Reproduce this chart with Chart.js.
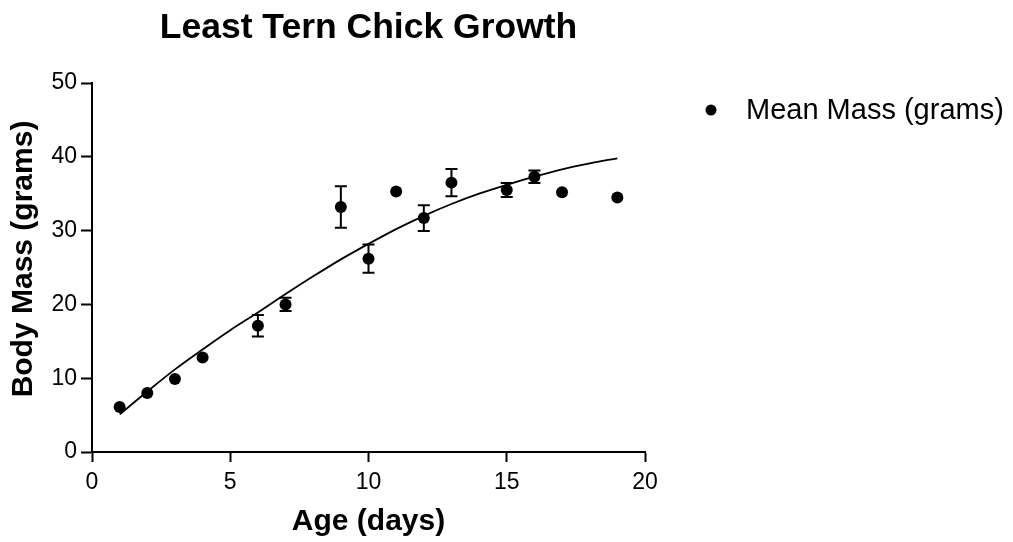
<!DOCTYPE html>
<html>
<head>
<meta charset="utf-8">
<title>Least Tern Chick Growth</title>
<script src="https://cdn.jsdelivr.net/npm/chart.js@4/dist/chart.umd.min.js"></script>
<style>
  html, body { margin: 0; padding: 0; background: #fff; }
  #growthChart { display: block; }
</style>
</head>
<body>
<canvas id="growthChart" width="1013" height="542"></canvas>
<script>
// Observed chick masses (mean +/- SEM) by age
const ages = [1, 2, 3, 4, 6, 7, 9, 10, 11, 12, 13, 15, 16, 17, 19];
const meanMass = [6.1, 8.0, 9.9, 12.8, 17.1, 20.0, 33.2, 26.2, 35.3, 31.7, 36.5, 35.5, 37.3, 35.2, 34.5];
const semMass = [0, 0, 0, 0, 1.45, 0.9, 2.8, 1.9, 0, 1.75, 1.85, 0.95, 0.85, 0, 0];

// Fitted growth curve
const fitAges = [1, 2, 3, 4, 5, 6, 7, 8, 9, 10, 11, 12, 13, 14, 15, 16, 17, 18, 19];
const fitMass = [5.1, 8.2, 11.2, 13.9, 16.5, 18.9, 21.4, 23.8, 26.1, 28.2, 30.2, 32.0, 33.6, 35.0, 36.2, 37.3, 38.3, 39.1, 39.8];

const xTicks = [0, 5, 10, 15, 20];
const yTicks = [0, 10, 20, 30, 40, 50];

const FONT = "'Liberation Sans', Arial, Helvetica, sans-serif";

// Vertical error bars with caps, drawn through the chart scales
const errorBars = {
  id: 'errorBars',
  afterDatasetsDraw(chart) {
    const { ctx, scales: { x, y } } = chart;
    ctx.save();
    ctx.strokeStyle = '#000';
    ctx.lineWidth = 2;
    ages.forEach((age, i) => {
      const err = semMass[i];
      if (!err) return;
      const px = x.getPixelForValue(age);
      const top = y.getPixelForValue(meanMass[i] + err);
      const bottom = y.getPixelForValue(meanMass[i] - err);
      ctx.beginPath();
      ctx.moveTo(px, top);
      ctx.lineTo(px, bottom);
      ctx.moveTo(px - 6, top);
      ctx.lineTo(px + 6, top);
      ctx.moveTo(px - 6, bottom);
      ctx.lineTo(px + 6, bottom);
      ctx.stroke();
    });
    ctx.restore();
  }
};

// Y axis title (sits a little above the plot's middle) and the side legend
const sideText = {
  id: 'sideText',
  afterDraw(chart) {
    const { ctx } = chart;
    ctx.save();
    ctx.fillStyle = '#000';

    ctx.save();
    ctx.translate(24, 259);
    ctx.rotate(-Math.PI / 2);
    ctx.font = 'bold 30px ' + FONT;
    ctx.textAlign = 'center';
    ctx.textBaseline = 'middle';
    ctx.fillText('Body Mass (grams)', 0, 0);
    ctx.restore();

    ctx.beginPath();
    ctx.arc(711, 110, 5.5, 0, Math.PI * 2);
    ctx.fill();
    ctx.font = '29px ' + FONT;
    ctx.textBaseline = 'middle';
    ctx.textAlign = 'left';
    ctx.fillText('Mean Mass (grams)', 746, 111);
    ctx.restore();
  }
};

const ctx = document.getElementById('growthChart').getContext('2d');
new Chart(ctx, {
  type: 'scatter',
  data: {
    datasets: [
      {
        label: 'Fit',
        data: fitAges.map((a, i) => ({ x: a, y: fitMass[i] })),
        showLine: true,
        borderColor: '#000',
        borderWidth: 1.8,
        pointRadius: 0,
        cubicInterpolationMode: 'monotone',
        fill: false
      },
      {
        label: 'Mean Mass (grams)',
        data: ages.map((a, i) => ({ x: a, y: meanMass[i] })),
        backgroundColor: '#000',
        borderWidth: 0,
        pointRadius: 6,
        pointHoverRadius: 6
      }
    ]
  },
  options: {
    responsive: false,
    animation: false,
    layout: { padding: { left: 0, right: 368, top: 0, bottom: 0 } },
    plugins: {
      legend: { display: false },
      tooltip: { enabled: false },
      title: {
        display: true,
        fullSize: false,
        text: 'Least Tern Chick Growth',
        color: '#000',
        font: { family: FONT, size: 35.5, weight: 'bold', lineHeight: 1.2 },
        padding: { top: 7, bottom: 33.4 }
      }
    },
    scales: {
      x: {
        type: 'linear',
        min: 0,
        max: 20,
        afterFit(scale) { scale.height = 90; },
        afterBuildTicks(scale) { scale.ticks = xTicks.map(v => ({ value: v })); },
        grid: { drawOnChartArea: false, drawTicks: true, tickLength: 10, tickColor: '#000', tickWidth: 2 },
        border: { display: true, color: '#000', width: 2 },
        ticks: { color: '#000', padding: 7, maxRotation: 0, font: { family: FONT, size: 23 } },
        title: {
          display: true,
          text: 'Age (days)',
          color: '#000',
          font: { family: FONT, size: 30, weight: 'bold', lineHeight: 1.2 },
          padding: { top: 0, bottom: 2 }
        }
      },
      y: {
        type: 'linear',
        min: 0,
        max: 50,
        afterFit(scale) { scale.width = 92; },
        afterBuildTicks(scale) { scale.ticks = yTicks.map(v => ({ value: v })); },
        grid: { drawOnChartArea: false, drawTicks: true, tickLength: 11, tickColor: '#000', tickWidth: 2 },
        border: { display: true, color: '#000', width: 2 },
        ticks: { color: '#000', padding: 4, font: { family: FONT, size: 23 } }
      }
    }
  },
  plugins: [errorBars, sideText]
});
</script>
</body>
</html>
